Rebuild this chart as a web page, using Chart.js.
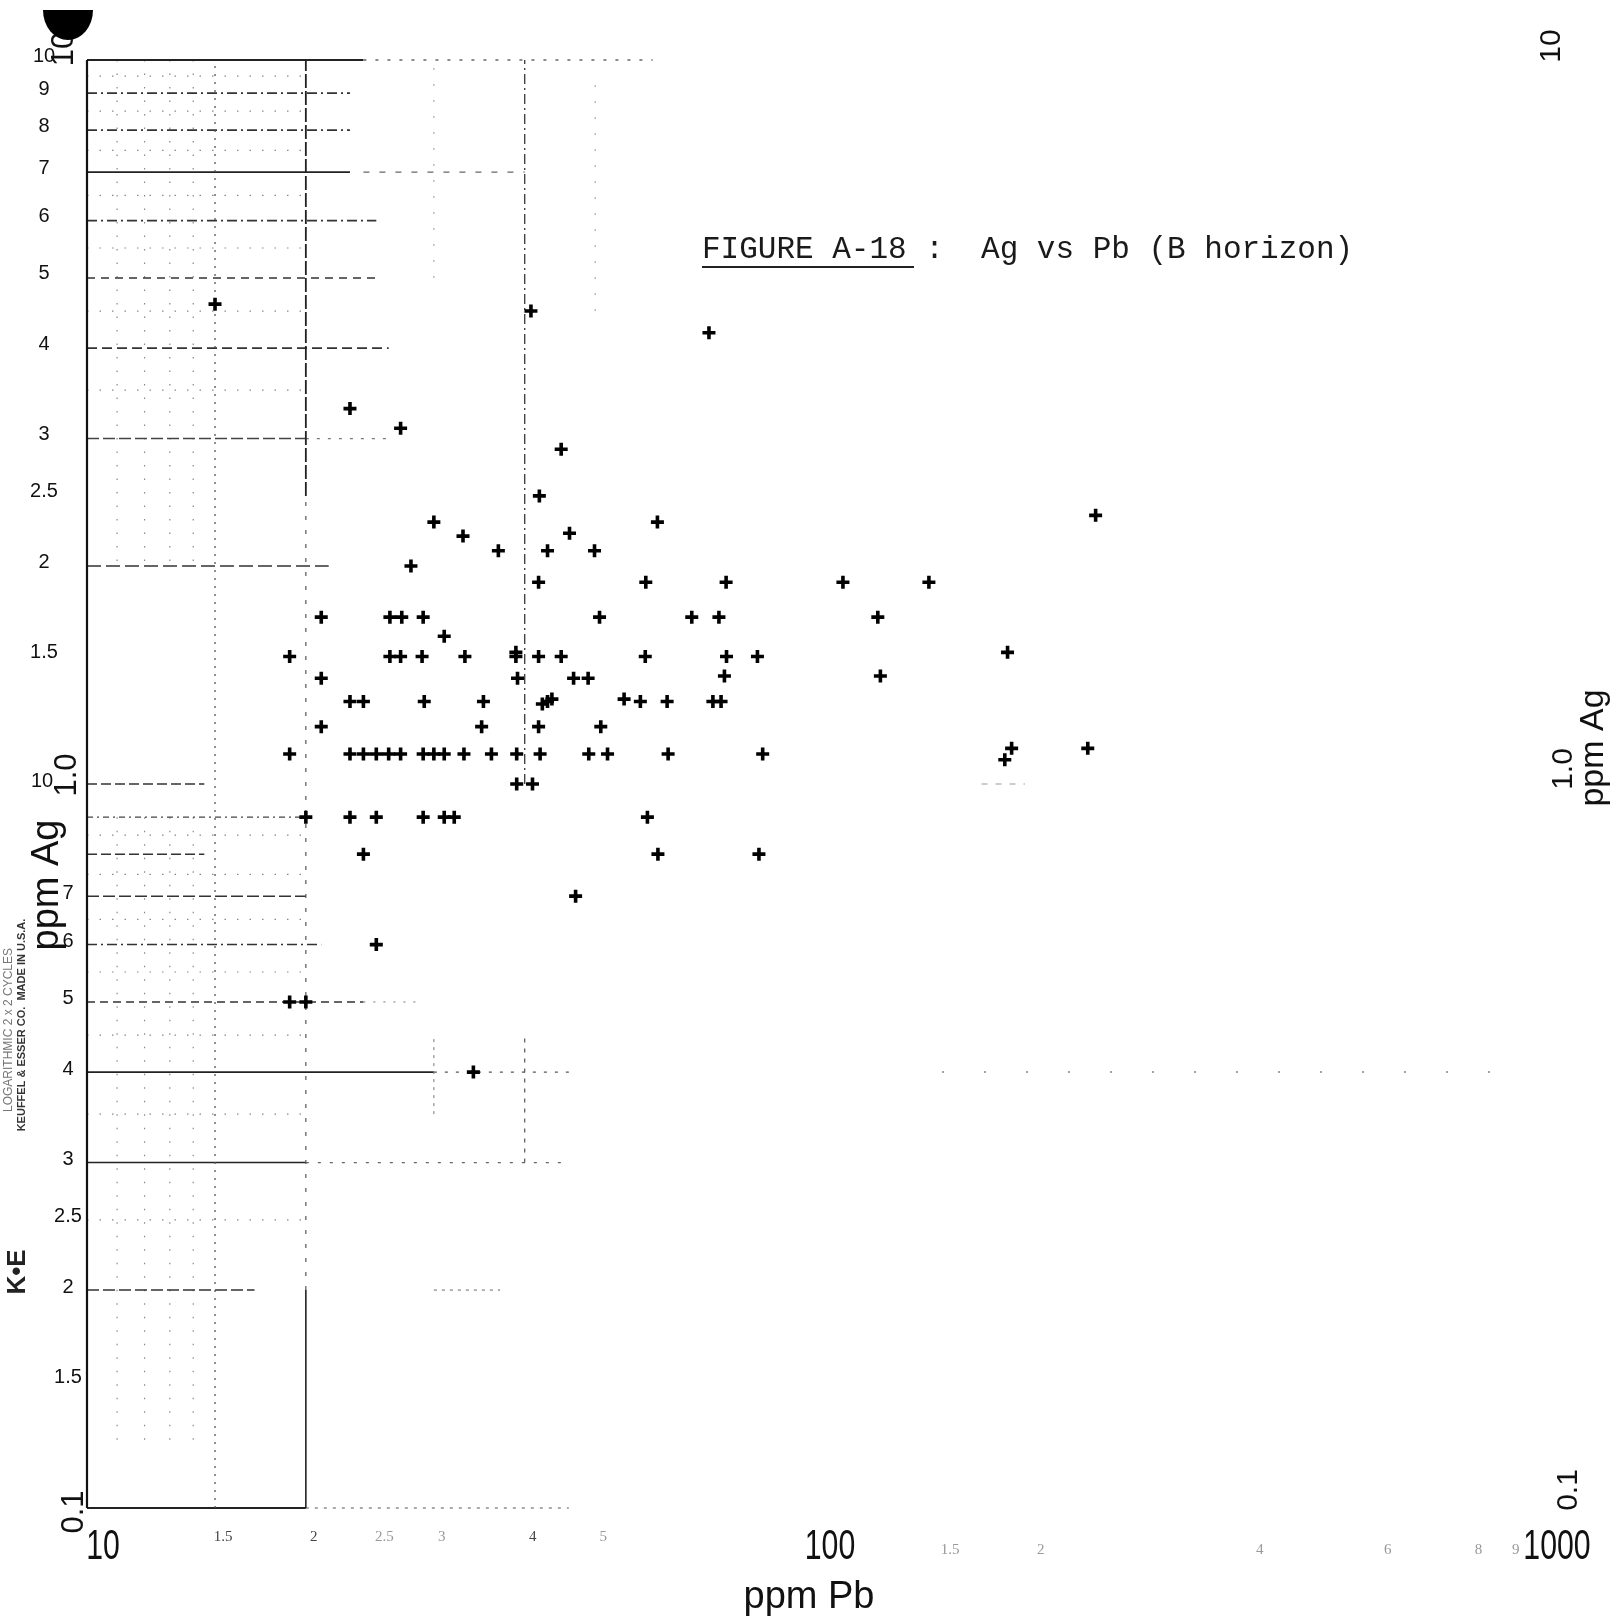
<!DOCTYPE html>
<html>
<head>
<meta charset="utf-8">
<title>FIGURE A-18: Ag vs Pb (B horizon)</title>
<script src="https://cdn.jsdelivr.net/npm/chart.js@4.4.1/dist/chart.umd.min.js"></script>
<style>
  html, body { margin: 0; padding: 0; background: #fff; }
  #wrap { width: 1617px; height: 1622px; position: relative; }
</style>
</head>
<body>
<div id="wrap"><canvas id="agPbChart"></canvas></div>
<script>
// Samples: ppm Pb (x) and ppm Ag (y)
const pbPpm = [
  15, 40.8, 71.7,
  23, 27, 44.9, 41.9,
  30, 60.9, 244, 32.9, 46.1,
  36.8, 43, 49.9, 27.9,
  41.8, 58.7, 75.7, 109.6, 143.9,
  21, 26.1, 27.1, 29, 50.7, 67.9, 74, 122.4,
  31,
  19, 26.1, 27, 28.9, 33.1, 38.9, 38.9, 41.8, 44.9, 58.6, 75.8, 83.6, 184.6,
  21, 39.1, 46.7, 48.9, 75.3, 123.4,
  23, 24, 29.1, 35.1, 42.3, 43, 43.6, 54.8, 57.7, 62.8, 72.6, 74.5,
  21, 34.9, 41.8, 50.9,
  19, 23, 24, 25, 26, 27, 29, 30, 31, 33, 36, 39, 42, 49, 52, 63, 85, 183, 187, 238,
  39, 41,
  20, 23, 25, 29, 31, 32, 59,
  24, 61, 84,
  47, 25, 19, 20, 34
];
const agPpm = [
  4.6, 4.5, 4.2,
  3.3, 3.1, 2.9, 2.5,
  2.3, 2.3, 2.35, 2.2, 2.22,
  2.1, 2.1, 2.1, 2.0,
  1.9, 1.9, 1.9, 1.9, 1.9,
  1.7, 1.7, 1.7, 1.7, 1.7, 1.7, 1.7, 1.7,
  1.6,
  1.5, 1.5, 1.5, 1.5, 1.5, 1.5, 1.52, 1.5, 1.5, 1.5, 1.5, 1.5, 1.52,
  1.4, 1.4, 1.4, 1.4, 1.41, 1.41,
  1.3, 1.3, 1.3, 1.3, 1.29, 1.3, 1.31, 1.31, 1.3, 1.3, 1.3, 1.3,
  1.2, 1.2, 1.2, 1.2,
  1.1, 1.1, 1.1, 1.1, 1.1, 1.1, 1.1, 1.1, 1.1, 1.1, 1.1, 1.1, 1.1, 1.1, 1.1, 1.1, 1.1, 1.08, 1.12, 1.12,
  1.0, 1.0,
  0.9, 0.9, 0.9, 0.9, 0.9, 0.9, 0.9,
  0.8, 0.8, 0.8,
  0.7, 0.6, 0.5, 0.5, 0.4
];

// Printed labels of the log paper
const agTicksUpper = [10, 9, 8, 7, 6, 5, 4, 3, 2.5, 2, 1.5];
const agLabelsUpper = ['10', '9', '8', '7', '6', '5', '4', '3', '2.5', '2', '1.5'];
const agTicksLower = [1, 0.7, 0.6, 0.5, 0.4, 0.3, 0.25, 0.2, 0.15];
const agLabelsLower = ['10', '7', '6', '5', '4', '3', '2.5', '2', '1.5'];
const agCycleTicks = [10, 1, 0.1];
const agCycleLabels = ['10', '1.0', '0.1'];
const pbCycleTicks = [10, 100, 1000];
const pbCycleLabels = ['10', '100', '1000'];
const pbMinorTicks = [15, 20, 25, 30, 40, 50, 150, 200, 400, 600, 800, 900];
const pbMinorLabels = ['1.5', '2', '2.5', '3', '4', '5', '1.5', '2', '4', '6', '8', '9'];

// paper ruling: [value, from, to, dash, width, colour]
const hRules = [
  [10, 10, 24, [], 2, '#222'], [10, 24, 60, [3, 9], 1.4, '#666'],
  [9, 10, 23, [10, 4, 2, 4], 1.6, '#333'],
  [8, 10, 23, [10, 4, 2, 4], 1.6, '#333'],
  [7, 10, 23, [], 1.8, '#222'], [7, 24, 40, [6, 10], 1.4, '#666'],
  [6, 10, 25, [10, 4, 2, 4], 1.6, '#333'],
  [5, 10, 25, [8, 6], 1.6, '#333'],
  [4, 10, 26, [10, 5], 1.6, '#333'],
  [3, 10, 20, [12, 4], 1.4, '#444'], [3, 20, 26, [3, 8], 1.2, '#777'],
  [2, 10, 21.5, [14, 5], 1.5, '#333'],
  [1, 10, 14.5, [10, 4], 1.5, '#333'],
  [0.9, 10, 20, [6, 4, 2, 4], 1.4, '#444'],
  [0.8, 10, 14.5, [10, 4], 1.5, '#333'],
  [0.7, 10, 20, [12, 4], 1.5, '#333'],
  [0.6, 10, 21, [10, 4, 2, 4], 1.5, '#333'],
  [0.5, 10, 24, [8, 5], 1.5, '#333'], [0.5, 24, 29, [2, 8], 1, '#777'],
  [0.4, 10, 30, [], 1.8, '#222'], [0.4, 30, 46, [3, 8], 1.3, '#555'],
  [0.4, 150, 900, [2, 40], 1.5, '#888'],
  [0.3, 10, 20, [], 1.6, '#222'], [0.3, 20, 46, [3, 9], 1.2, '#666'],
  [0.2, 10, 17, [12, 4], 1.5, '#333'], [0.2, 30, 37, [3, 5], 1, '#666'],
  [0.1, 10, 20, [], 1.8, '#222'], [0.1, 20, 46, [3, 6], 1.2, '#555'],
  [1, 170, 195, [6, 8], 1.2, '#999']
];
const vRules = [
  [10, 0.1, 10, [], 2.2, '#111'],
  [15, 0.1, 10, [2, 6], 1.3, '#555'],
  [20, 2.5, 10, [14, 3], 1.8, '#222'],
  [20, 0.2, 2.5, [4, 10], 1.2, '#555'],
  [20, 0.1, 0.2, [], 1.6, '#222'],
  [40, 1.0, 10, [10, 4, 2, 4], 1.4, '#444'],
  [40, 0.3, 0.45, [4, 6], 1.2, '#555'],
  [30, 0.35, 0.45, [3, 5], 1, '#777'],
  [30, 5, 10, [2, 14], 1, '#999'],
  [50, 4.5, 9.5, [2, 14], 1, '#999']
];
const dotRulesY = [9.5, 8.5, 7.5, 6.5, 5.5, 4.5, 3.5, 0.85, 0.75, 0.65, 0.55, 0.45, 0.35, 0.25];
const dotRulesX = [11, 12, 13, 14];

const paperPlugin = {
  id: 'paper',
  beforeDraw(chart) {
    const c = chart.ctx;
    c.save();
    c.fillStyle = '#fff';
    c.fillRect(0, 0, chart.width, chart.height);
    c.restore();
  },
  beforeDatasetsDraw(chart) {
    const c = chart.ctx;
    const xs = chart.scales.x, ys = chart.scales.y;
    const seg = (x1, y1, x2, y2, dash, w, col) => {
      c.beginPath();
      c.setLineDash(dash);
      c.lineWidth = w;
      c.strokeStyle = col;
      c.moveTo(x1, y1);
      c.lineTo(x2, y2);
      c.stroke();
    };
    c.save();
    dotRulesY.forEach(v => {
      const y = ys.getPixelForValue(v);
      seg(xs.getPixelForValue(10), y, xs.getPixelForValue(20), y, [1.5, 11], 1.2, '#888');
    });
    dotRulesX.forEach(v => {
      const x = xs.getPixelForValue(v);
      seg(x, ys.getPixelForValue(10), x, ys.getPixelForValue(2), [1.5, 12], 1.2, '#888');
      seg(x, ys.getPixelForValue(0.9), x, ys.getPixelForValue(0.12), [1.5, 12], 1.2, '#888');
    });
    hRules.forEach(([v, a, b, dash, w, col]) => {
      const y = ys.getPixelForValue(v);
      seg(xs.getPixelForValue(a), y, xs.getPixelForValue(b), y, dash, w, col);
    });
    vRules.forEach(([v, a, b, dash, w, col]) => {
      const x = xs.getPixelForValue(v);
      seg(x, ys.getPixelForValue(a), x, ys.getPixelForValue(b), dash, w, col);
    });
    c.restore();
  },
  afterDraw(chart) {
    const c = chart.ctx;
    const xs = chart.scales.x, ys = chart.scales.y;
    const rotText = (txt, x, y, font, col) => {
      c.save();
      c.translate(x, y);
      c.rotate(-Math.PI / 2);
      c.font = font;
      c.fillStyle = col;
      c.textAlign = 'center';
      c.textBaseline = 'middle';
      c.fillText(txt, 0, 0);
      c.restore();
    };
    c.save();
    c.fillStyle = '#111';
    c.textAlign = 'center';
    c.textBaseline = 'middle';

    // small printed y labels of both cycles
    c.font = '20px "Liberation Sans", Arial, sans-serif';
    agTicksUpper.forEach((v, i) => c.fillText(agLabelsUpper[i], 44, ys.getPixelForValue(v) - 4));
    agTicksLower.forEach((v, i) => c.fillText(agLabelsLower[i], i === 0 ? 42 : 68, ys.getPixelForValue(v) - 3));

    // hand-lettered cycle labels, rotated
    const leftOff = [[64, -11], [67, -9], [74, 4]];
    const rightOff = [[1552, -14], [1564, -15], [1569, -18]];
    agCycleTicks.forEach((v, i) => {
      const y = ys.getPixelForValue(v);
      rotText(agCycleLabels[i], leftOff[i][0], y + leftOff[i][1], '31px "Liberation Sans", Arial, sans-serif', '#111');
      rotText(agCycleLabels[i], rightOff[i][0], y + rightOff[i][1], '30px "Liberation Sans", Arial, sans-serif', '#111');
    });
    rotText('ppm Ag', 1594, 748, '34px "Liberation Sans", Arial, sans-serif', '#111');
    rotText('ppm Ag', 48, 885, '38px "Liberation Sans", Arial, sans-serif', '#111');

    // x cycle labels (tall, narrow lettering)
    pbCycleTicks.forEach((v, i) => {
      c.save();
      c.translate(xs.getPixelForValue(v) + 16, 1547);
      c.scale(0.72, 1);
      c.font = '42px "Liberation Sans", Arial, sans-serif';
      c.fillText(pbCycleLabels[i], 0, 0);
      c.restore();
    });
    c.font = '15px "Liberation Serif", serif';
    pbMinorTicks.forEach((v, i) => {
      const faint = v > 100 || v === 25 || v === 30 || v === 50;
      c.fillStyle = faint ? '#999' : '#444';
      c.fillText(pbMinorLabels[i], xs.getPixelForValue(v) + 8, v > 100 ? 1550 : 1537);
    });
    c.fillStyle = '#111';
    c.font = '38px "Liberation Sans", Arial, sans-serif';
    c.fillText('ppm Pb', 809, 1598);

    // title
    c.textAlign = 'left';
    c.textBaseline = 'alphabetic';
    c.font = '31px "Liberation Mono", "Courier New", monospace';
    c.fillStyle = '#1a1a1a';
    c.fillText('FIGURE A-18 :  Ag vs Pb (B horizon)', 702, 258);
    c.beginPath();
    c.setLineDash([]);
    c.lineWidth = 2;
    c.strokeStyle = '#222';
    c.moveTo(702, 267);
    c.lineTo(914, 267);
    c.stroke();

    // paper maker's imprint in the margin
    rotText('LOGARITHMIC 2 x 2 CYCLES', 9, 1030, '12px "Liberation Sans", Arial, sans-serif', '#777');
    rotText('KEUFFEL & ESSER CO.  MADE IN U.S.A.', 22, 1025, 'bold 11px "Liberation Sans", Arial, sans-serif', '#333');
    rotText('K\u2022E', 18, 1272, 'bold 26px "Liberation Sans", Arial, sans-serif', '#222');

    // binder punch hole
    c.beginPath();
    c.fillStyle = '#000';
    c.ellipse(68, 10, 25, 30, 0, 0, Math.PI);
    c.fill();
    c.restore();
  }
};

const ctx = document.getElementById('agPbChart').getContext('2d');
new Chart(ctx, {
  type: 'scatter',
  data: {
    datasets: [{
      label: 'Ag vs Pb',
      data: pbPpm.map((x, i) => ({ x: x, y: agPpm[i] })),
      pointStyle: 'cross',
      pointRadius: 6.5,
      pointHoverRadius: 6.5,
      pointBorderWidth: 3.6,
      borderColor: '#000',
      backgroundColor: '#000'
    }]
  },
  options: {
    responsive: true,
    maintainAspectRatio: false,
    animation: false,
    devicePixelRatio: 1,
    events: [],
    layout: { padding: { left: 87, right: 76, top: 60, bottom: 114 } },
    scales: {
      x: { type: 'logarithmic', min: 10, max: 1000, display: false },
      y: { type: 'logarithmic', min: 0.1, max: 10, display: false }
    },
    plugins: {
      legend: { display: false },
      tooltip: { enabled: false }
    }
  },
  plugins: [paperPlugin]
});
</script>
</body>
</html>
